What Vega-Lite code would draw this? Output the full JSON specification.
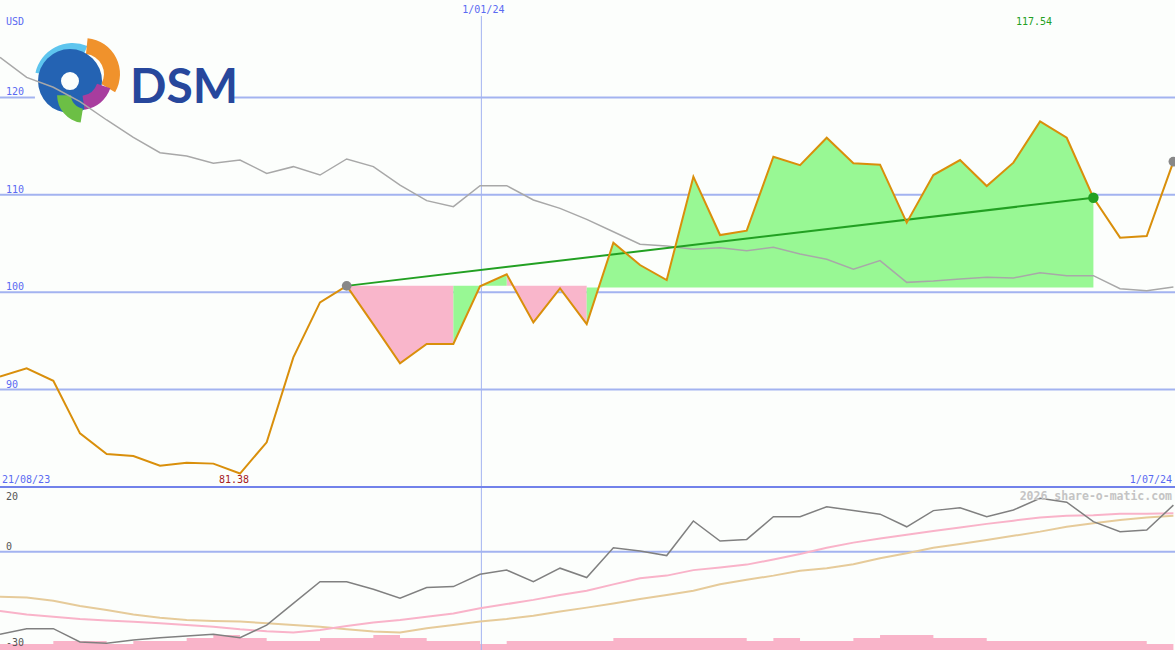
{
  "$schema": "https://vega.github.io/schema/vega-lite/v6.json",
  "background": "#fcfefc",
  "padding": 0,
  "width": 1175,
  "height": 650,
  "autosize": {"type": "none"},
  "config": {"view": {"stroke": null}, "axis": {"disable": true}},
  "datasets": {
    "d": [
      {"i":0,"p":91.33,"ma":124.11,"o":-25.5,"s1":-18.3,"s2":-13.9,"vol":2},
      {"i":1,"p":92.19,"ma":122.06,"o":-23.8,"s1":-19.4,"s2":-14.2,"vol":2},
      {"i":2,"p":90.91,"ma":121.04,"o":-23.8,"s1":-20.1,"s2":-15.2,"vol":3},
      {"i":3,"p":85.51,"ma":119.56,"o":-27.9,"s1":-20.8,"s2":-16.8,"vol":3},
      {"i":4,"p":83.39,"ma":117.68,"o":-28.3,"s1":-21.3,"s2":-18.0,"vol":2},
      {"i":5,"p":83.18,"ma":115.90,"o":-27.3,"s1":-21.7,"s2":-19.4,"vol":3},
      {"i":6,"p":82.19,"ma":114.32,"o":-26.6,"s1":-22.1,"s2":-20.4,"vol":3},
      {"i":7,"p":82.50,"ma":113.98,"o":-26.1,"s1":-22.7,"s2":-21.1,"vol":4},
      {"i":8,"p":82.40,"ma":113.23,"o":-25.5,"s1":-23.2,"s2":-21.4,"vol":5},
      {"i":9,"p":81.38,"ma":113.57,"o":-26.6,"s1":-24.0,"s2":-21.6,"vol":4},
      {"i":10,"p":84.59,"ma":112.20,"o":-22.7,"s1":-24.6,"s2":-22.1,"vol":3},
      {"i":11,"p":93.31,"ma":112.89,"o":-16.0,"s1":-25.0,"s2":-22.7,"vol":3},
      {"i":12,"p":98.96,"ma":112.03,"o":-9.3,"s1":-24.2,"s2":-23.2,"vol":4},
      {"i":13,"p":100.65,"ma":113.68,"o":-9.3,"s1":-23.0,"s2":-24.0,"vol":4},
      {"i":14,"p":96.7,"ma":112.89,"o":-11.6,"s1":-21.9,"s2":-24.7,"vol":5},
      {"i":15,"p":92.7,"ma":111.0,"o":-14.4,"s1":-21.1,"s2":-25.0,"vol":4},
      {"i":16,"p":94.68,"ma":109.40,"o":-11.1,"s1":-20.1,"s2":-23.7,"vol":3},
      {"i":17,"p":94.68,"ma":108.78,"o":-10.8,"s1":-19.1,"s2":-22.7,"vol":3},
      {"i":18,"p":100.6,"ma":110.94,"o":-7.0,"s1":-17.5,"s2":-21.6,"vol":2},
      {"i":19,"p":101.84,"ma":110.94,"o":-5.7,"s1":-16.2,"s2":-20.8,"vol":3},
      {"i":20,"p":96.9,"ma":109.47,"o":-9.3,"s1":-14.9,"s2":-19.8,"vol":3},
      {"i":21,"p":100.4,"ma":108.61,"o":-5.1,"s1":-13.4,"s2":-18.5,"vol":3},
      {"i":22,"p":96.73,"ma":107.48,"o":-8.0,"s1":-12.1,"s2":-17.3,"vol":3},
      {"i":23,"p":105.08,"ma":106.21,"o":1.2,"s1":-10.1,"s2":-16.0,"vol":4},
      {"i":24,"p":102.79,"ma":104.92,"o":0.2,"s1":-8.2,"s2":-14.6,"vol":4},
      {"i":25,"p":101.25,"ma":104.74,"o":-1.2,"s1":-7.4,"s2":-13.4,"vol":4},
      {"i":26,"p":111.86,"ma":104.40,"o":9.5,"s1":-5.7,"s2":-12.1,"vol":4},
      {"i":27,"p":105.87,"ma":104.57,"o":3.3,"s1":-4.9,"s2":-10.1,"vol":4},
      {"i":28,"p":106.32,"ma":104.26,"o":3.8,"s1":-4.0,"s2":-8.7,"vol":3},
      {"i":29,"p":113.91,"ma":104.61,"o":10.8,"s1":-2.4,"s2":-7.4,"vol":4},
      {"i":30,"p":113.05,"ma":103.92,"o":10.8,"s1":-0.7,"s2":-5.9,"vol":3},
      {"i":31,"p":115.86,"ma":103.38,"o":13.9,"s1":1.2,"s2":-5.1,"vol":3},
      {"i":32,"p":113.23,"ma":102.35,"o":12.7,"s1":2.8,"s2":-3.9,"vol":4},
      {"i":33,"p":113.09,"ma":103.24,"o":11.6,"s1":4.1,"s2":-2.0,"vol":5},
      {"i":34,"p":107.14,"ma":101.01,"o":7.7,"s1":5.2,"s2":-0.5,"vol":5},
      {"i":35,"p":112.03,"ma":101.15,"o":12.7,"s1":6.4,"s2":1.2,"vol":4},
      {"i":36,"p":113.57,"ma":101.36,"o":13.6,"s1":7.5,"s2":2.4,"vol":4},
      {"i":37,"p":110.90,"ma":101.53,"o":10.8,"s1":8.6,"s2":3.6,"vol":3},
      {"i":38,"p":113.30,"ma":101.46,"o":12.9,"s1":9.6,"s2":4.9,"vol":3},
      {"i":39,"p":117.54,"ma":102.00,"o":16.5,"s1":10.6,"s2":6.2,"vol":3},
      {"i":40,"p":115.86,"ma":101.70,"o":15.3,"s1":11.1,"s2":7.7,"vol":3},
      {"i":41,"p":109.7,"ma":101.70,"o":9.3,"s1":11.3,"s2":8.8,"vol":3},
      {"i":42,"p":105.60,"ma":100.36,"o":6.2,"s1":11.7,"s2":9.8,"vol":3},
      {"i":43,"p":105.77,"ma":100.15,"o":6.7,"s1":11.7,"s2":10.6,"vol":2},
      {"i":44,"p":113.41,"ma":100.53,"o":14.4,"s1":11.9,"s2":11.1,"vol":2}
    ],
    "grid": [{"v":90},{"v":100},{"v":110},{"v":120}],
    "trend": [{"i":13,"t":100.65},{"i":41,"t":109.7}],
    "one": [{}]
  },
  "layer": [
    {
      "layer": [
        {"data": {"name": "grid"}, "mark": {"type": "rule", "color": "#a3b3f0", "strokeWidth": 2},
         "encoding": {"y": {"field": "v", "type": "quantitative", "scale": {"domain": [80, 130], "range": [487, 0], "nice": false, "zero": false}}}},
        {"data": {"name": "grid"}, "mark": {"type": "text", "align": "left", "baseline": "alphabetic", "dx": 6, "dy": -2, "font": "DejaVu Sans Mono", "fontSize": 10, "color": "#5a6af2"},
         "encoding": {"x": {"datum": 0, "type": "quantitative", "scale": {"domain": [0, 44.06], "nice": false, "zero": false}}, "y": {"field": "v", "type": "quantitative"}, "text": {"field": "v", "type": "quantitative"}}},
        {"data": {"name": "one"}, "mark": {"type": "rule", "color": "#a3b3f0", "strokeWidth": 1},
         "encoding": {"x": {"datum": 18.05, "type": "quantitative"}, "y": {"datum": 128.36, "type": "quantitative"}, "y2": {"datum": 80}}},
        {"data": {"name": "one"}, "mark": {"type": "rect", "color": "#fcfefc"},
         "encoding": {"x": {"datum": 1.31, "type": "quantitative"}, "x2": {"datum": 8.74}, "y": {"datum": 126.4, "type": "quantitative"}, "y2": {"datum": 116.6}}},
        {"data": {"name": "one"}, "mark": {"type": "arc", "color": "#5ec5ee", "theta": -1.35, "theta2": 0.4, "radius": 38, "radius2": 26},
         "encoding": {"x": {"datum": 2.72, "type": "quantitative"}, "y": {"datum": 121.68, "type": "quantitative"}}},
        {"data": {"name": "one"}, "mark": {"type": "arc", "color": "#f0922c", "theta": 0.1, "theta2": 2.1, "radius": 36, "radius2": 20},
         "encoding": {"x": {"datum": 3.15, "type": "quantitative"}, "y": {"datum": 122.4, "type": "quantitative"}}},
        {"data": {"name": "one"}, "mark": {"type": "arc", "color": "#2463b3", "theta": 0, "theta2": 6.2832, "radius": 32, "radius2": 9},
         "encoding": {"x": {"datum": 2.625, "type": "quantitative"}, "y": {"datum": 121.68, "type": "quantitative"}}},
        {"data": {"name": "one"}, "mark": {"type": "arc", "color": "#a83d9e", "theta": 1.9, "theta2": 3.0, "radius": 32, "radius2": 18},
         "encoding": {"x": {"datum": 3.0, "type": "quantitative"}, "y": {"datum": 121.99, "type": "quantitative"}}},
        {"data": {"name": "one"}, "mark": {"type": "arc", "color": "#6cbf45", "theta": 3.3, "theta2": 4.7, "radius": 28, "radius2": 14},
         "encoding": {"x": {"datum": 3.19, "type": "quantitative"}, "y": {"datum": 120.25, "type": "quantitative"}}},
        {"data": {"name": "one"}, "mark": {"type": "text", "text": "DSM", "align": "left", "baseline": "alphabetic", "font": "Lato", "fontWeight": "bold", "fontSize": 48, "color": "#27479c"},
         "encoding": {"x": {"datum": 4.875, "type": "quantitative"}, "y": {"datum": 119.43, "type": "quantitative"}}},
        {"data": {"name": "d"}, "transform": [{"filter": "datum.i >= 13 && datum.i <= 17"}], "mark": {"type": "area", "color": "#f9b6cb", "opacity": 1},
         "encoding": {"x": {"field": "i", "type": "quantitative"}, "y": {"field": "p", "type": "quantitative"}, "y2": {"datum": 100.67}}},
        {"data": {"name": "d"}, "transform": [{"filter": "datum.i >= 19 && datum.i <= 22"}], "mark": {"type": "area", "color": "#f9b6cb", "opacity": 1},
         "encoding": {"x": {"field": "i", "type": "quantitative"}, "y": {"field": "p", "type": "quantitative"}, "y2": {"datum": 100.67}}},
        {"data": {"name": "d"}, "transform": [{"filter": "datum.i >= 17 && datum.i <= 19"}], "mark": {"type": "area", "color": "#98f894", "opacity": 1},
         "encoding": {"x": {"field": "i", "type": "quantitative"}, "y": {"field": "p", "type": "quantitative"}, "y2": {"datum": 100.67}}},
        {"data": {"name": "d"}, "transform": [{"filter": "datum.i >= 22 && datum.i <= 41"}], "mark": {"type": "area", "color": "#98f894", "opacity": 1},
         "encoding": {"x": {"field": "i", "type": "quantitative"}, "y": {"field": "p", "type": "quantitative"}, "y2": {"datum": 100.48}}},
        {"data": {"name": "d"}, "mark": {"type": "line", "color": "#a8a8a8", "strokeWidth": 1.5},
         "encoding": {"x": {"field": "i", "type": "quantitative"}, "y": {"field": "ma", "type": "quantitative"}}},
        {"data": {"name": "trend"}, "mark": {"type": "line", "color": "#22a022", "strokeWidth": 2},
         "encoding": {"x": {"field": "i", "type": "quantitative"}, "y": {"field": "t", "type": "quantitative"}}},
        {"data": {"name": "d"}, "mark": {"type": "line", "color": "#d98f0b", "strokeWidth": 2},
         "encoding": {"x": {"field": "i", "type": "quantitative"}, "y": {"field": "p", "type": "quantitative"}}},
        {"data": {"name": "d"}, "transform": [{"filter": "datum.i == 13 || datum.i == 44"}], "mark": {"type": "circle", "color": "#888888", "size": 95, "opacity": 1},
         "encoding": {"x": {"field": "i", "type": "quantitative"}, "y": {"field": "p", "type": "quantitative"}}},
        {"data": {"name": "d"}, "transform": [{"filter": "datum.i == 41"}], "mark": {"type": "circle", "color": "#22a022", "size": 110, "opacity": 1},
         "encoding": {"x": {"field": "i", "type": "quantitative"}, "y": {"field": "p", "type": "quantitative"}}},
        {"data": {"name": "d"}, "transform": [{"filter": "datum.i == 39"}], "mark": {"type": "text", "align": "center", "baseline": "alphabetic", "dx": -6, "dy": 25, "font": "DejaVu Sans Mono", "fontSize": 10, "color": "#22a022"},
         "encoding": {"x": {"field": "i", "type": "quantitative"}, "y": {"datum": 130, "type": "quantitative"}, "text": {"field": "p", "type": "quantitative", "format": ".2f"}}},
        {"data": {"name": "d"}, "transform": [{"filter": "datum.i == 9"}], "mark": {"type": "text", "align": "center", "baseline": "alphabetic", "dx": -6, "dy": -4, "font": "DejaVu Sans Mono", "fontSize": 10, "color": "#a52020"},
         "encoding": {"x": {"field": "i", "type": "quantitative"}, "y": {"datum": 80, "type": "quantitative"}, "text": {"field": "p", "type": "quantitative", "format": ".2f"}}},
        {"data": {"name": "one"}, "mark": {"type": "text", "text": "USD", "align": "left", "baseline": "alphabetic", "dx": 6, "dy": 25, "font": "DejaVu Sans Mono", "fontSize": 10, "color": "#5a6af2"},
         "encoding": {"x": {"datum": 0, "type": "quantitative"}, "y": {"datum": 130, "type": "quantitative"}}},
        {"data": {"name": "one"}, "mark": {"type": "text", "text": "1/01/24", "align": "center", "baseline": "alphabetic", "dx": 2, "dy": 13, "font": "DejaVu Sans Mono", "fontSize": 10, "color": "#5a6af2"},
         "encoding": {"x": {"datum": 18.05, "type": "quantitative"}, "y": {"datum": 130, "type": "quantitative"}}},
        {"data": {"name": "one"}, "mark": {"type": "text", "text": "21/08/23", "align": "left", "baseline": "alphabetic", "dx": 2, "dy": -4, "font": "DejaVu Sans Mono", "fontSize": 10, "color": "#5a6af2"},
         "encoding": {"x": {"datum": 0, "type": "quantitative"}, "y": {"datum": 80, "type": "quantitative"}}},
        {"data": {"name": "one"}, "mark": {"type": "text", "text": "1/07/24", "align": "right", "baseline": "alphabetic", "dx": -3, "dy": -4, "font": "DejaVu Sans Mono", "fontSize": 10, "color": "#5a6af2"},
         "encoding": {"x": {"datum": 44.06, "type": "quantitative"}, "y": {"datum": 80, "type": "quantitative"}}}
      ]
    },
    {
      "layer": [
        {"data": {"name": "d"}, "mark": {"type": "area", "interpolate": "step-after", "color": "#f9b4c9", "opacity": 1},
         "encoding": {"x": {"field": "i", "type": "quantitative"}, "y": {"field": "vol", "type": "quantitative", "scale": {"domain": [0, 54], "range": [650, 487], "nice": false, "zero": true}}}}
      ]
    },
    {
      "layer": [
        {"data": {"name": "one"}, "mark": {"type": "rule", "color": "#a3b3f0", "strokeWidth": 2},
         "encoding": {"y": {"datum": 0, "type": "quantitative", "scale": {"domain": [-30.4, 20], "range": [650, 487], "nice": false, "zero": false}}}},
        {"data": {"name": "one"}, "mark": {"type": "rule", "color": "#a3b3f0", "strokeWidth": 1},
         "encoding": {"x": {"datum": 18.05, "type": "quantitative"}, "y": {"datum": 20, "type": "quantitative"}, "y2": {"datum": -30.4}}},
        {"data": {"name": "d"}, "mark": {"type": "line", "color": "#e6cb9a", "strokeWidth": 2},
         "encoding": {"x": {"field": "i", "type": "quantitative"}, "y": {"field": "s2", "type": "quantitative"}}},
        {"data": {"name": "d"}, "mark": {"type": "line", "color": "#f9b3c9", "strokeWidth": 2},
         "encoding": {"x": {"field": "i", "type": "quantitative"}, "y": {"field": "s1", "type": "quantitative"}}},
        {"data": {"name": "d"}, "mark": {"type": "line", "color": "#808080", "strokeWidth": 1.5},
         "encoding": {"x": {"field": "i", "type": "quantitative"}, "y": {"field": "o", "type": "quantitative"}}},
        {"data": {"name": "one"}, "mark": {"type": "rule", "color": "#7282ea", "strokeWidth": 2},
         "encoding": {"y": {"datum": 20, "type": "quantitative"}}},
        {"data": {"name": "one"}, "mark": {"type": "text", "text": "20", "align": "left", "baseline": "alphabetic", "dx": 6, "dy": 12.5, "font": "DejaVu Sans Mono", "fontSize": 10, "color": "#555555"},
         "encoding": {"x": {"datum": 0, "type": "quantitative"}, "y": {"datum": 20, "type": "quantitative"}}},
        {"data": {"name": "one"}, "mark": {"type": "text", "text": "0", "align": "left", "baseline": "alphabetic", "dx": 6, "dy": -2, "font": "DejaVu Sans Mono", "fontSize": 10, "color": "#555555"},
         "encoding": {"x": {"datum": 0, "type": "quantitative"}, "y": {"datum": 0, "type": "quantitative"}}},
        {"data": {"name": "one"}, "mark": {"type": "text", "text": "-30", "align": "left", "baseline": "alphabetic", "dx": 6, "dy": -2.5, "font": "DejaVu Sans Mono", "fontSize": 10, "color": "#555555"},
         "encoding": {"x": {"datum": 0, "type": "quantitative"}, "y": {"datum": -30, "type": "quantitative"}}},
        {"data": {"name": "one"}, "mark": {"type": "text", "text": "2026 share-o-matic.com", "align": "right", "baseline": "alphabetic", "dx": -3, "dy": 13, "font": "DejaVu Sans Mono", "fontWeight": "bold", "fontSize": 11.5, "color": "#c4c4c4"},
         "encoding": {"x": {"datum": 44.06, "type": "quantitative"}, "y": {"datum": 20, "type": "quantitative"}}}
      ]
    }
  ],
  "resolve": {"scale": {"y": "independent"}}
}
